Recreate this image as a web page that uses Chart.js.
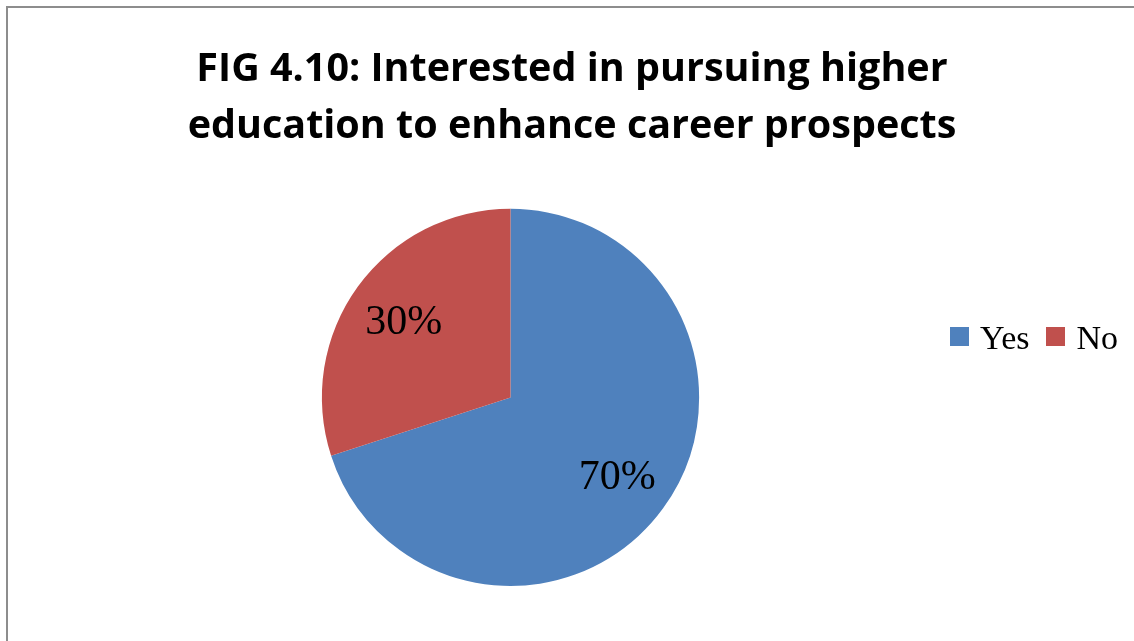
<!DOCTYPE html>
<html>
<head>
<meta charset="utf-8">
<title>FIG 4.10</title>
<script src="https://cdn.jsdelivr.net/npm/chart.js@4/dist/chart.umd.min.js"></script>
<style>
    html, body {
        margin: 0;
        padding: 0;
        background: #ffffff;
        overflow: hidden;
    }
    #frame {
        position: absolute;
        left: 6px;
        top: 6px;
        width: 1128px;
        height: 640px;
        border: 2px solid #8d8d8d;
        background: #ffffff;
    }
    #pie-chart {
        display: block;
    }
    #pie-legend {
        position: absolute;
        left: 942px;
        top: 311px;
        display: flex;
        align-items: center;
        font-family: "Liberation Serif", "Times New Roman", serif;
        font-size: 34px;
        color: #000000;
    }
    #pie-legend .item {
        display: flex;
        align-items: center;
        margin-right: 17px;
    }
    #pie-legend .box {
        width: 19px;
        height: 19px;
        margin-right: 11px;
        margin-top: -4px;
    }
</style>
</head>
<body>
<div id="frame">
    <canvas id="pie-chart" width="1128" height="640"></canvas>
    <div id="pie-legend"></div>
</div>
<script>
// Survey answers
const answerLabels = ['Yes', 'No'];
const answerShares = [70, 30];
const answerColors = ['#4f81bd', '#c0504d'];

const titleLines = [
    'FIG 4.10: Interested in pursuing higher',
    'education to enhance career prospects'
];

// Percent labels drawn inside each slice
const sliceLabels = {
    id: 'sliceLabels',
    afterDatasetsDraw(chart) {
        const ctx = chart.ctx;
        const meta = chart.getDatasetMeta(0);
        const values = chart.data.datasets[0].data;
        const total = values.reduce((a, b) => a + b, 0);

        ctx.save();
        ctx.font = '42px "Liberation Serif", "Times New Roman", serif';
        ctx.fillStyle = '#000000';
        ctx.textAlign = 'center';
        ctx.textBaseline = 'middle';
        meta.data.forEach((arc, i) => {
            const p = arc.getProps(['x', 'y', 'startAngle', 'endAngle', 'outerRadius'], true);
            const mid = (p.startAngle + p.endAngle) / 2;
            const r = p.outerRadius * 0.7;
            const pct = Math.round(values[i] / total * 100) + '%';
            ctx.fillText(pct, p.x + Math.cos(mid) * r, p.y + Math.sin(mid) * r + 3);
        });
        ctx.restore();
    }
};

// Empty box on the right side so the pie sits left of the legend,
// while the title still spans the full width
const legendSpace = {
    id: 'legendSpace',
    beforeInit(chart) {
        const box = {
            position: 'right',
            weight: 1000,
            fullSize: false,
            options: {},
            width: 0, height: 0,
            left: 0, top: 0, right: 0, bottom: 0,
            isHorizontal() { return false; },
            update(maxWidth, maxHeight) {
                this.width = 123;
                this.height = maxHeight;
            },
            draw() {}
        };
        Chart.layouts.addBox(chart, box);
    }
};

// Legend in one row, built from the chart's own legend items
const rowLegend = {
    id: 'rowLegend',
    afterUpdate(chart) {
        const box = document.getElementById('pie-legend');
        box.innerHTML = '';
        const items = chart.options.plugins.legend.labels.generateLabels(chart);
        items.forEach(item => {
            const el = document.createElement('div');
            el.className = 'item';
            el.innerHTML = `<span class="box" style="background:${item.fillStyle}"></span><span>${item.text}</span>`;
            box.appendChild(el);
        });
    }
};

const ctx = document.getElementById('pie-chart').getContext('2d');

new Chart(ctx, {
    type: 'pie',
    data: {
        labels: answerLabels,
        datasets: [{
            data: answerShares,
            backgroundColor: answerColors,
            borderWidth: 0
        }]
    },
    options: {
        responsive: false,
        animation: false,
        devicePixelRatio: 1,
        layout: {
            padding: { left: 0, right: 0, top: 0, bottom: 62 }
        },
        plugins: {
            title: {
                display: true,
                text: titleLines,
                color: '#000000',
                font: { family: '"Open Sans"', weight: 'bold', size: 39.5, lineHeight: 1.44 },
                padding: { top: 33, bottom: 54 }
            },
            legend: { display: false },
            tooltip: { enabled: false }
        }
    },
    plugins: [legendSpace, sliceLabels, rowLegend]
});
</script>
</body>
</html>
